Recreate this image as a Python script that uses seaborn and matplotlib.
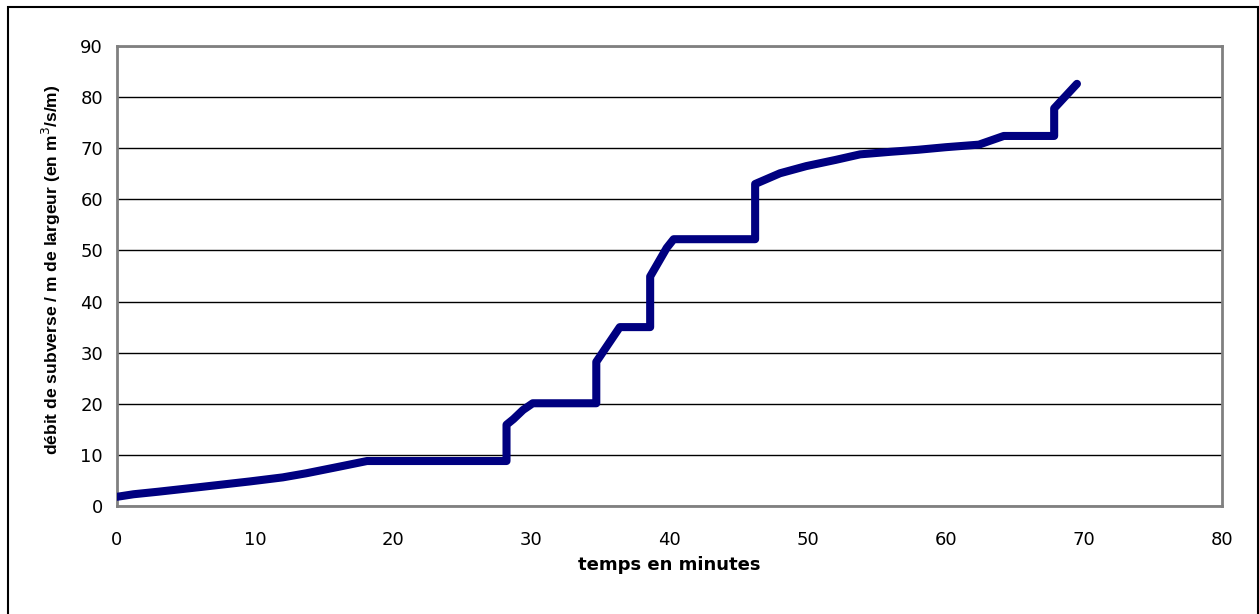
import matplotlib
matplotlib.use("Agg")
import matplotlib.pyplot as plt
import seaborn as sns
import pandas as pd
from matplotlib.patches import Rectangle

# Cumulative overflow discharge per metre of width over time
temps_min = [0.0, 1.2, 3.0, 6.0, 9.6, 12.0, 13.7, 16.1, 18.1,
             28.2, 28.2, 28.7, 29.4, 30.1,
             34.7, 34.7, 36.4,
             38.6, 38.6, 39.8, 40.3,
             46.2, 46.2, 48.0, 49.9, 52.0, 53.8, 56.0, 58.0, 60.0, 62.4,
             64.2, 67.85, 67.85, 69.5]
debit = [1.8, 2.3, 2.8, 3.7, 4.8, 5.6, 6.4, 7.7, 8.8,
         8.8, 15.9, 17.0, 18.8, 20.1,
         20.1, 28.2, 35.0,
         35.0, 44.9, 50.5, 52.2,
         52.2, 63.0, 65.1, 66.5, 67.7, 68.8, 69.3, 69.7, 70.2, 70.7,
         72.4, 72.4, 77.8, 82.6]

x_ticks = list(range(0, 81, 10))
y_ticks = list(range(0, 91, 10))

df = pd.DataFrame({"temps": temps_min, "debit": debit})

sns.set_theme(style="white")
plt.rcParams["font.family"] = ["DejaVu Sans"]

W, H = 1259, 614
fig = plt.figure(figsize=(W / 100, H / 100), dpi=100)
ax = fig.add_axes([117 / W, 1 - 506 / H, (1222 - 117) / W, (506 - 46) / H])

sns.lineplot(data=df, x="temps", y="debit", sort=False, estimator=None,
             color="#000080", linewidth=5.8, ax=ax,
             solid_joinstyle="round", solid_capstyle="round", zorder=3)

ax.set_xlim(0, 80)
ax.set_ylim(0, 90)
ax.set_xticks(x_ticks)
ax.set_yticks(y_ticks)
ax.set_xticklabels([str(v) for v in x_ticks])
ax.set_yticklabels([str(v) for v in y_ticks])
ax.tick_params(axis="both", direction="out", length=5, width=1, color="#000000",
               labelsize=13, labelcolor="#000000")
ax.tick_params(axis="y", pad=5)
ax.tick_params(axis="x", pad=13)
ax.yaxis.grid(True, color="#000000", linewidth=1.0)
ax.xaxis.grid(False)
ax.set_axisbelow(True)

for side in ["top", "right", "left", "bottom"]:
    ax.spines[side].set_visible(True)
    ax.spines[side].set_color("#808080")
    ax.spines[side].set_linewidth(2)

ax.set_xlabel("temps en minutes", fontsize=13, fontweight="bold", color="#000000")
ax.xaxis.set_label_coords(0.5, (506 - 556) / 460)
ax.set_ylabel("débit de subverse / m de largeur (en m$^3$/s/m)", fontsize=12.6,
              fontweight="bold", color="#000000", family="Liberation Sans")
ax.yaxis.set_label_coords((63 - 117) / 1105, (506 - 270) / 460)

# Outer chart frame
fig.patches.append(Rectangle((8 / W, -0.01), (1257.5 - 8) / W, 1 - 6.5 / H + 0.01,
                             transform=fig.transFigure, fill=False,
                             edgecolor="#000000", linewidth=1.5, zorder=0))

fig.savefig("out.png", dpi=100, facecolor="white")
